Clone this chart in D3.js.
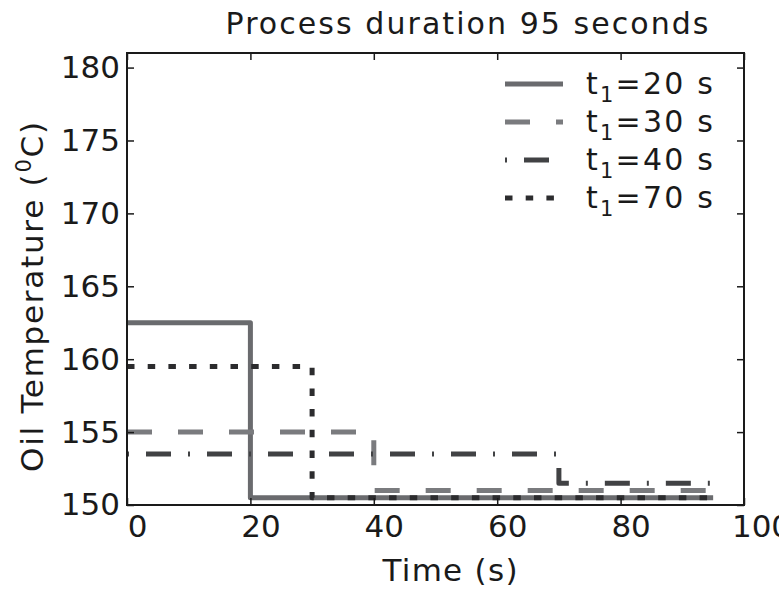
<!DOCTYPE html>
<html>
<head>
<meta charset="utf-8">
<script src="https://cdn.jsdelivr.net/npm/d3@7"></script>
<style>
  body { margin: 0; background: #fff; }
  svg { display: block; font-family: "DejaVu Sans", sans-serif; }
</style>
</head>
<body>
<div id="chart"></div>
<script>
"use strict";

// Breakpoints of the step curves (seconds), shared by every series.
const times = [0, 20, 30, 40, 70, 95];

// Oil temperature for each series at those breakpoints.
const temp_t20 = [162.5, 150.5, 150.5, 150.5, 150.5, 150.5];
const temp_t30 = [155, 155, 155, 151, 151, 151];
const temp_t40 = [153.5, 153.5, 153.5, 153.5, 151.5, 151.5];
const temp_t70 = [159.5, 159.5, 150.5, 150.5, 150.5, 150.5];

const seriesLabels = ["20", "30", "40", "70"];
const xTicks = [0, 20, 40, 60, 80, 100];
const yTicks = [150, 155, 160, 165, 170, 175, 180];

const width = 779, height = 591;
const plotLeft = 127, plotRight = 744, plotTop = 53, plotBottom = 505;

const series = [
  { label: seriesLabels[0], values: temp_t20, colour: "#6a6b6e", dash: null },
  { label: seriesLabels[1], values: temp_t30, colour: "#7a7b7e", dash: "25,26" },
  { label: seriesLabels[2], values: temp_t40, colour: "#414244", dash: "2,17,25,17" },
  { label: seriesLabels[3], values: temp_t70, colour: "#2c2c2e", dash: "7.5,13.2" }
];

let x = d3.scaleLinear().domain([0, 100]).range([plotLeft, plotRight]);
let y = d3.scaleLinear().domain([150, 181]).range([plotBottom, plotTop]);

let svg = d3.select("#chart")
  .append("svg")
  .attr("width", width)
  .attr("height", height);

// Plot lines first, frame goes over them.
let line = d3.line()
  .x((d, i) => x(times[i]))
  .y(d => y(d))
  .curve(d3.curveStepAfter);

series.forEach(s => {
  svg.append("path")
    .attr("d", line(s.values))
    .attr("fill", "none")
    .attr("stroke", s.colour)
    .attr("stroke-width", 5)
    .attr("stroke-linejoin", "round")
    .attr("stroke-dasharray", s.dash);
});

// Inward ticks on all four sides, no domain lines (the frame does that).
const tickLen = 7;
function styleAxis(g) {
  g.select(".domain").remove();
  g.selectAll(".tick line").attr("stroke", "#1a1a1a").attr("stroke-width", 1.5);
}

svg.append("g")
  .attr("transform", `translate(0,${plotBottom})`)
  .call(d3.axisBottom(x).tickValues(xTicks).tickSize(-tickLen).tickPadding(10))
  .call(styleAxis)
  .call(g => g.selectAll(".tick text")
    .attr("dx", d => d == 100 ? 17 : 10)
    .attr("font-size", 31)
    .attr("font-family", "DejaVu Sans")
    .attr("fill", "#1a1a1a"));

svg.append("g")
  .attr("transform", `translate(0,${plotTop})`)
  .call(d3.axisTop(x).tickValues(xTicks).tickSize(-tickLen).tickFormat(""))
  .call(styleAxis);

svg.append("g")
  .attr("transform", `translate(${plotLeft},0)`)
  .call(d3.axisLeft(y).tickValues(yTicks).tickSize(-tickLen).tickPadding(7))
  .call(styleAxis)
  .call(g => g.selectAll(".tick text")
    .attr("font-size", 31)
    .attr("font-family", "DejaVu Sans")
    .attr("fill", "#1a1a1a"));

svg.append("g")
  .attr("transform", `translate(${plotRight},0)`)
  .call(d3.axisRight(y).tickValues(yTicks).tickSize(-tickLen).tickFormat(""))
  .call(styleAxis);

svg.append("rect")
  .attr("x", plotLeft)
  .attr("y", plotTop)
  .attr("width", plotRight - plotLeft)
  .attr("height", plotBottom - plotTop)
  .attr("fill", "none")
  .attr("stroke", "#1a1a1a")
  .attr("stroke-width", 2);

// Title
svg.append("text")
  .attr("x", 467)
  .attr("y", 34)
  .attr("text-anchor", "middle")
  .attr("textLength", 483)
  .attr("lengthAdjust", "spacing")
  .style("font-size", "30px")
  .attr("fill", "#1a1a1a")
  .text("Process duration 95 seconds");

// Axis labels
svg.append("text")
  .attr("x", 450)
  .attr("y", 581)
  .attr("text-anchor", "middle")
  .attr("textLength", 135)
  .attr("lengthAdjust", "spacing")
  .style("font-size", "31px")
  .attr("fill", "#1a1a1a")
  .text("Time (s)");

let yLabel = svg.append("text")
  .attr("transform", "translate(43,297) rotate(-90)")
  .attr("text-anchor", "middle")
  .attr("textLength", 350)
  .attr("lengthAdjust", "spacing")
  .style("font-size", "31px")
  .attr("fill", "#1a1a1a");
yLabel.append("tspan").text("Oil Temperature (");
yLabel.append("tspan").attr("dy", -12).style("font-size", "21px").text("0");
yLabel.append("tspan").attr("dy", 12).text("C)");

// Legend
let legend = svg.append("g");
series.forEach((s, i) => {
  let ly = 84 + i * 38;
  legend.append("line")
    .attr("x1", 505).attr("x2", 563)
    .attr("y1", ly).attr("y2", ly)
    .attr("stroke", s.colour)
    .attr("stroke-width", 5)
    .attr("stroke-dasharray", s.dash);
  let t = legend.append("text")
    .attr("x", 586)
    .attr("y", ly + 10)
    .attr("textLength", 127)
    .attr("lengthAdjust", "spacing")
    .style("font-size", "30px")
    .attr("fill", "#1a1a1a");
  t.append("tspan").text("t");
  t.append("tspan").attr("dy", 8).style("font-size", "21px").text("1");
  t.append("tspan").attr("dy", -8).text(`=${s.label} s`);
});
</script>
</body>
</html>
